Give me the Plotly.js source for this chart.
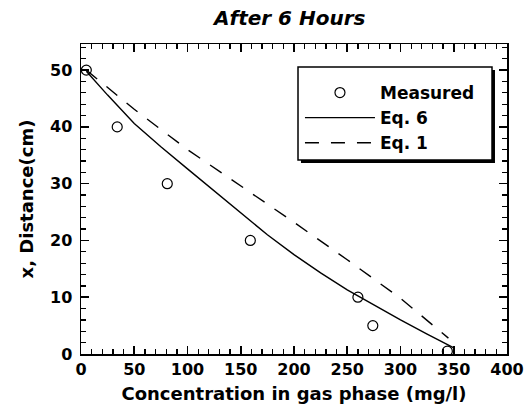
<!DOCTYPE html>
<html>
<head>
<meta charset="utf-8">
<script src="https://cdn.plot.ly/plotly-3.0.1.min.js"></script>
<style>html,body{margin:0;padding:0;background:#fff;}#chart{width:530px;height:411px;}</style>
</head>
<body>
<div id="chart"></div>
<script>
// Measured data
var measuredX = [5, 34, 81, 159, 260, 274, 344];
var measuredY = [50, 40, 30, 20, 10, 5, 0.5];
// Eq. 6 (solid)
var eq6X = [5, 25, 50, 75, 100, 125, 150, 175, 200, 225, 250, 275, 300, 325, 351];
var eq6Y = [49.8, 45.6, 40.6, 36.5, 32.6, 28.7, 24.8, 21.0, 17.5, 14.3, 11.3, 8.6, 6.0, 3.5, 1.0];
// Eq. 1 (dashed)
var eq1X = [5, 50, 100, 150, 200, 250, 300, 345];
var eq1Y = [50, 43.1, 36.0, 29.6, 23.2, 16.6, 9.8, 2.8];

var FONT = "DejaVu Sans, Liberation Sans, Arial, sans-serif";

var traces = [
  {x: measuredX, y: measuredY, name: "Measured", type: "scatter", mode: "markers",
   marker: {symbol: "circle-open", size: 10, color: "#000", line: {width: 1.2, color: "#000"}}},
  {x: eq6X, y: eq6Y, name: "Eq. 6", type: "scatter", mode: "lines",
   line: {color: "#000", width: 1.4}},
  {x: eq1X, y: eq1Y, name: "Eq. 1", type: "scatter", mode: "lines",
   line: {color: "#000", width: 1.4, dash: "14px,12px"}}
];

var axisCommon = {
  showline: true, linecolor: "#000", linewidth: 1.5, mirror: "ticks",
  ticks: "inside", ticklen: 8, tickwidth: 1.6, tickcolor: "#000",
  showgrid: false, zeroline: false,
  tickfont: {family: FONT, size: 16, color: "#000", weight: "bold"}
};

var layout = {
  width: 530, height: 411,
  margin: {l: 81, r: 23, t: 44, b: 57},
  paper_bgcolor: "#fff", plot_bgcolor: "#fff",
  title: {text: "<b><i>After 6 Hours</i></b>", x: 0.49, xref: "paper", xanchor: "center",
          y: 0.955, yanchor: "middle",
          font: {family: FONT, size: 20, color: "#000"}},
  xaxis: Object.assign({}, axisCommon, {
    range: [0, 400], dtick: 50, tick0: 0,
    minor: {dtick: 10, ticks: "inside", ticklen: 5, tickcolor: "#000", tickwidth: 1.3},
    title: {text: "<b>Concentration in gas phase (mg/l)</b>", standoff: 9,
            font: {family: FONT, size: 18, color: "#000"}}
  }),
  yaxis: Object.assign({}, axisCommon, {
    range: [0, 54.6], dtick: 10, tick0: 0,
    ticklabelstandoff: 4,
    minor: {dtick: 2, ticks: "inside", ticklen: 5, tickcolor: "#000", tickwidth: 1.3},
    title: {text: "<b>x, Distance(cm)</b>", standoff: 11,
            font: {family: FONT, size: 18, color: "#000"}}
  }),
  shapes: [
    {type: "rect", xref: "paper", yref: "paper", x0: 0.5164, x1: 0.9718, y0: 0.6161, y1: 0.9161,
     fillcolor: "#000", line: {width: 0}},
    {type: "rect", xref: "paper", yref: "paper", x0: 0.5094, x1: 0.9648, y0: 0.6258, y1: 0.9258,
     fillcolor: "#fff", line: {color: "#000", width: 1.5}}
  ],
  showlegend: true,
  legend: {x: 0.514, y: 0.9, xanchor: "left", yanchor: "top",
           bgcolor: "rgba(0,0,0,0)", borderwidth: 0,
           itemwidth: 70, tracegroupgap: 0,
           font: {family: FONT, size: 17, color: "#000", weight: "bold"}}
};

Plotly.newPlot("chart", traces, layout, {displayModeBar: false, staticPlot: true});
</script>
</body>
</html>
